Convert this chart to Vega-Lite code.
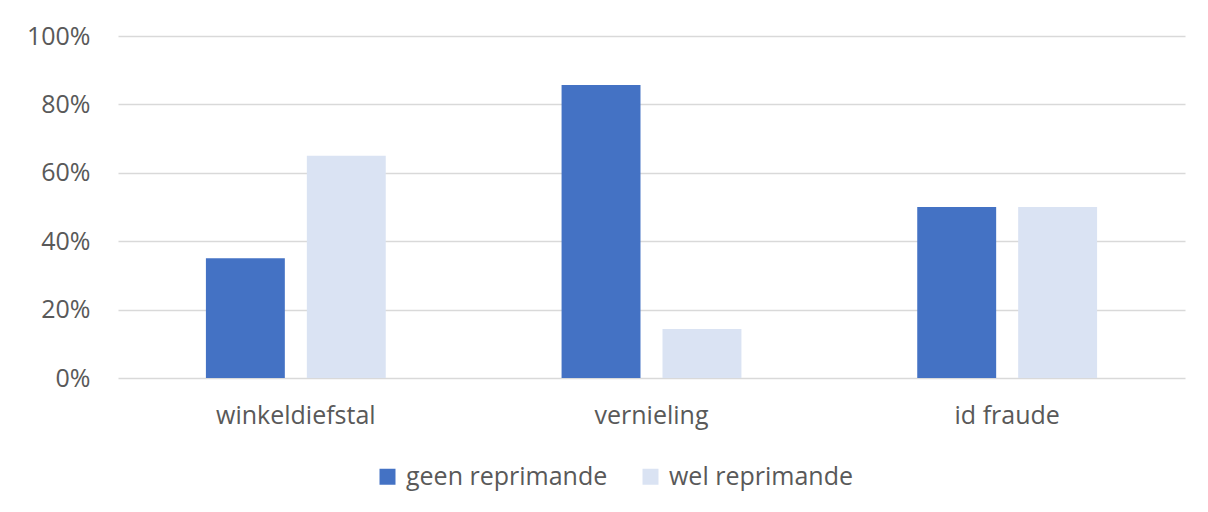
{
  "$schema": "https://vega.github.io/schema/vega-lite/v6.json",
  "width": 1067,
  "height": 342,
  "autosize": "none",
  "padding": {"left": 118, "top": 36, "right": 23, "bottom": 134},
  "background": "white",
  "data": {
    "values": [
      {"categorie": "winkeldiefstal", "reprimande": "geen reprimande", "aandeel": 0.35},
      {"categorie": "winkeldiefstal", "reprimande": "wel reprimande", "aandeel": 0.65},
      {"categorie": "vernieling", "reprimande": "geen reprimande", "aandeel": 0.857},
      {"categorie": "vernieling", "reprimande": "wel reprimande", "aandeel": 0.143},
      {"categorie": "id fraude", "reprimande": "geen reprimande", "aandeel": 0.5},
      {"categorie": "id fraude", "reprimande": "wel reprimande", "aandeel": 0.5}
    ]
  },
  "mark": {"type": "bar"},
  "encoding": {
    "x": {
      "field": "categorie",
      "type": "nominal",
      "sort": ["winkeldiefstal", "vernieling", "id fraude"],
      "scale": {"paddingInner": 0, "paddingOuter": 0},
      "axis": {"title": null, "labelAngle": 0, "ticks": false, "domain": false, "labelPadding": 25}
    },
    "xOffset": {
      "field": "reprimande",
      "type": "nominal",
      "scale": {"paddingInner": 0.218, "paddingOuter": 0.871}
    },
    "y": {
      "field": "aandeel",
      "type": "quantitative",
      "scale": {"domain": [0, 1]},
      "axis": {"title": null, "format": ".0%", "values": [0, 0.2, 0.4, 0.6, 0.8, 1], "ticks": false, "domain": false, "labelPadding": 28}
    },
    "color": {
      "field": "reprimande",
      "type": "nominal",
      "scale": {"domain": ["geen reprimande", "wel reprimande"], "range": ["#4472C4", "#DAE3F3"]},
      "legend": {
        "title": null,
        "orient": "none",
        "direction": "horizontal",
        "legendX": 257,
        "legendY": 428,
        "symbolType": "square",
        "symbolSize": 256,
        "symbolStrokeWidth": 0,
        "symbolOpacity": 1,
        "labelFontSize": 25,
        "labelColor": "#595959",
        "labelFont": "Open Sans",
        "labelOffset": 6,
        "labelLimit": 400,
        "columnPadding": 30
      }
    }
  },
  "config": {
    "view": {"stroke": null},
    "axis": {
      "gridColor": "#d9d9d9",
      "gridWidth": 1.5,
      "labelFont": "Open Sans",
      "labelFontSize": 25,
      "labelColor": "#595959",
      "labelLimit": 400
    },
    "axisX": {"grid": false}
  }
}
